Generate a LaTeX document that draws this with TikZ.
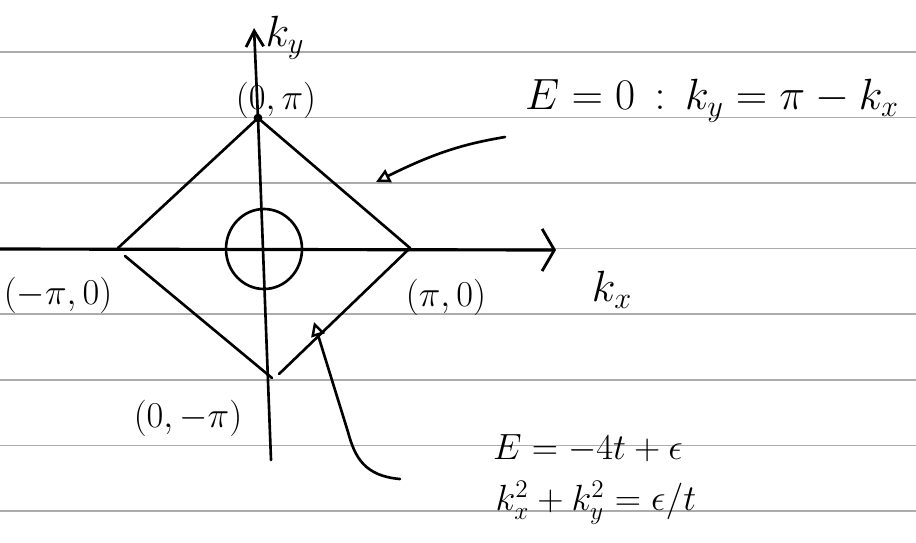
\documentclass[tikz,border=0pt]{standalone}
\usepackage{amsmath}
\usepackage{tikz}
\usetikzlibrary{arrows.meta}

\begin{document}
\begin{tikzpicture}[x=0.02cm,y=-0.02cm,
  pen/.style={line width=1.5pt, line cap=round, line join=round},
  ruled/.style={line width=0.9pt, gray!65},
  lbl/.style={inner sep=0pt, font=\fontsize{24}{28}\selectfont},
  pt/.style={inner sep=0pt, font=\fontsize{20}{24}\selectfont}]
			\useasboundingbox (0,0) rectangle (916,542);
			% ruled paper
			\foreach \y in {52,117.5,183,248.5,314,380,445.5,511}
			  \draw[ruled] (0,\y) -- (916,\y);
			% diamond corners
			\coordinate (top) at (258,118);
			\coordinate (rgt) at (410,248);
			\coordinate (bot) at (272,378);
			\coordinate (lft) at (118,248);
			\coordinate (lfts) at (125,256);
			\coordinate (bots) at (279,374);
			% axes
			\coordinate (xs) at (0,249);
			\coordinate (xe) at (556,250);
			\coordinate (ys) at (271,460);
			\coordinate (ye) at (254,28);
			% pointers
			\coordinate (pa) at (505,137);
			\coordinate (pat) at (376,182);
			\coordinate (pb) at (400,479);
			\coordinate (pbm) at (348,432);
			\coordinate (pbt) at (314,322);
			%
			\draw[pen, line width=1.8pt, -{Straight Barb[length=7pt,width=24pt,line width=1.6pt]}] (xs) -- (xe);
			\draw[pen, -{Straight Barb[length=9pt,width=10pt,line width=1.6pt]}] (ys) -- (top) -- (ye);
			\draw[pen] (lft) -- (top) -- (rgt) -- (bots);
			\draw[pen] (lfts) -- (bot);
			\fill (top) circle (2.5pt);
			\draw[pen] (264,249) ellipse (38 and 40);
			\draw[pen, -{Triangle[open,length=8pt,width=8pt,line width=1.4pt]}] (pa) .. controls (470,143) and (440,150) .. (pat);
			\draw[pen, -{Triangle[open,length=8pt,width=8pt,line width=1.4pt]}] (pb) .. controls (365,476) and (355,458) .. (pbm) -- (pbt);
			% labels
			\node[lbl] (lky) at (285,38) {$k_y$};
			\node[pt] (lt) at (276,100) {$(0,\pi)$};
			\node[lbl] (le0) at (712,101) {$E=0\,:\,k_y=\pi-k_x$};
			\node[pt] (ll) at (58,295) {$(-\pi,0)$};
			\node[pt] (lr) at (446,297) {$(\pi,0)$};
			\node[lbl] (lkx) at (612,290) {$k_x$};
			\node[pt] (lb) at (188,418) {$(0,-\pi)$};
			\node[lbl, font=\fontsize{22}{26}\selectfont] (le4) at (588,449) {$E=-4t+\epsilon$};
			\node[lbl, font=\fontsize{22}{26}\selectfont] (lk2) at (596,503) {$k_x^2+k_y^2=\epsilon/t$};
		\end{tikzpicture}
\end{document}
